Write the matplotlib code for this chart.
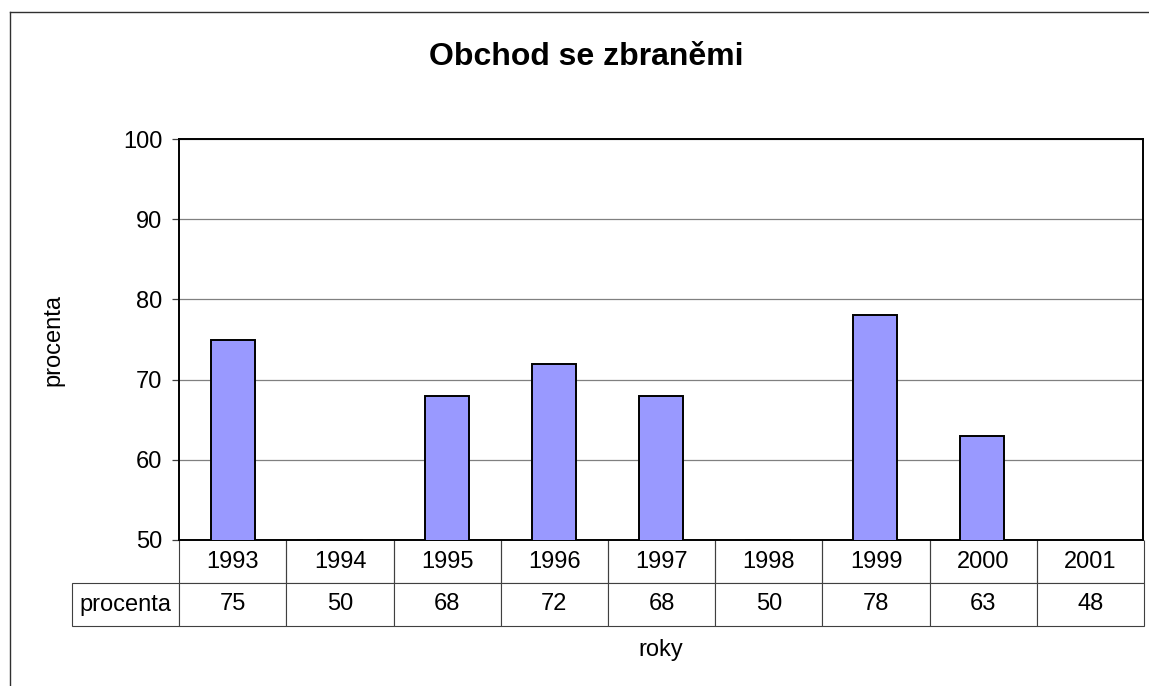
import matplotlib.pyplot as plt
from matplotlib.lines import Line2D
from matplotlib.table import Table

plt.rcParams['font.family'] = ['Liberation Sans', 'DejaVu Sans']

# === Data ===
years = ["1993", "1994", "1995", "1996", "1997", "1998", "1999", "2000", "2001"]
procenta = [75, 50, 68, 72, 68, 50, 78, 63, 48]
series_name = "procenta"

W, H = 1149, 686
fig = plt.figure(figsize=(W / 100, H / 100), dpi=100)
fig.patch.set_facecolor("white")

# plot area in pixels: x 179..1143, y 139..540
ax = fig.add_axes([179 / W, (H - 540) / H, 964 / W, 401 / H])

x = list(range(len(years)))
ax.bar(x, procenta, width=0.41, color="#9999FF", edgecolor="black", linewidth=1.4, zorder=3)

ax.set_xlim(-0.5, len(years) - 0.5)
ax.set_ylim(50, 100)
ax.set_yticks([50, 60, 70, 80, 90, 100])
ax.set_xticks([])
ax.yaxis.grid(True, color="#808080", linewidth=0.9)
ax.set_axisbelow(True)
ax.tick_params(axis="y", length=5, width=0.9, color="#404040", pad=7, labelsize=17)

for s in ax.spines.values():
    s.set_color("black")
    s.set_linewidth(1.4)

ax.set_ylabel("procenta", fontsize=17)
ax.yaxis.set_label_coords((53 - 179) / 964, 0.5)
ax.set_xlabel("roky", fontsize=17)
ax.xaxis.set_label_coords(0.5, -(650 - 540) / 401)
ax.xaxis.label.set_va("center")
ax.yaxis.label.set_va("center")

# === Data table under the plot ===
# one label column + one column per year, all equally wide
tbl = Table(ax, bbox=[(72 - 179) / 964, -(626 - 540) / 401, 1072 / 964, 86 / 401])
cw, ch = 1.0, 1.0
for j, (yr, v) in enumerate(zip(years, procenta)):
    hc = tbl.add_cell(0, j + 1, cw, ch, text=yr, loc="center")
    hc.visible_edges = "BRL"
    tbl.add_cell(1, j + 1, cw, ch, text=str(v), loc="center")
tbl.add_cell(1, 0, cw, ch, text=series_name, loc="center")
tbl.auto_set_font_size(False)
tbl.set_fontsize(17)
for cell in tbl.get_celld().values():
    cell.set_edgecolor("#404040")
    cell.set_linewidth(0.8)
ax.add_table(tbl)

# === Title ===
fig.text(586 / W, 1 - 57 / H, "Obchod se zbraněmi", fontsize=23, fontweight="bold",
         ha="center", va="center")

# chart area border (left and top edges)
fig.add_artist(Line2D([10 / W, 10 / W], [0, 1 - 12 / H], transform=fig.transFigure,
                      color="#303030", linewidth=1))
fig.add_artist(Line2D([10 / W, 1], [1 - 12 / H, 1 - 12 / H], transform=fig.transFigure,
                      color="#303030", linewidth=1))

fig.savefig("out.png", dpi=100)
